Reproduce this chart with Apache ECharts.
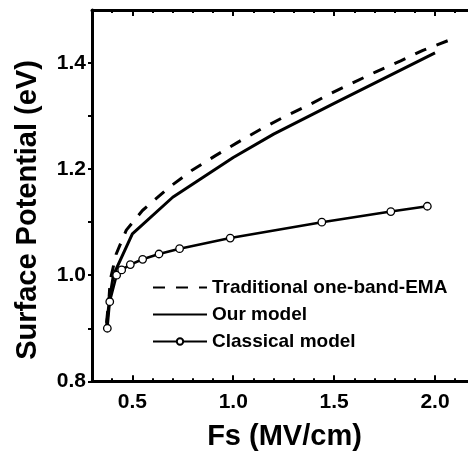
<!DOCTYPE html>
<html>
<head>
<meta charset="utf-8">
<script src="https://cdn.jsdelivr.net/npm/echarts@6/dist/echarts.min.js"></script>
<style>
  html, body { margin: 0; padding: 0; background: #fff; }
  #chart { width: 468px; height: 454px; }
</style>
</head>
<body>
<div id="chart"></div>
<script>
// Surface potential versus surface field Fs for three models
const seriesNames = ['Traditional one-band-EMA', 'Our model', 'Classical model'];

// Traditional one-band-EMA (dashed)
const emaFs = [0.372, 0.385, 0.39, 0.42, 0.47, 0.55, 0.68, 0.80, 0.91, 1.02, 1.14, 1.25, 1.37, 1.48, 1.60, 1.71, 1.83, 1.94, 2.09];
const emaPot = [0.91, 0.96, 0.99, 1.04, 1.085, 1.122, 1.165, 1.199, 1.225, 1.25, 1.276, 1.298, 1.32, 1.342, 1.364, 1.384, 1.404, 1.424, 1.446];

// Our model (solid)
const ourFs = [0.371, 0.386, 0.406, 0.50, 0.70, 1.00, 1.20, 1.50, 2.00];
const ourPot = [0.90, 0.953, 1.00, 1.078, 1.147, 1.222, 1.266, 1.324, 1.419];

// Classical model (solid with open circles)
const clsFs = [0.376, 0.388, 0.422, 0.447, 0.49, 0.551, 0.632, 0.734, 0.985, 1.439, 1.781, 1.962];
const clsPot = [0.90, 0.95, 1.00, 1.01, 1.02, 1.03, 1.04, 1.05, 1.07, 1.10, 1.12, 1.13];

// Axis ticks and labels
const xMajor = [0.5, 1.0, 1.5, 2.0];
const xMinor = [0.4, 0.6, 0.7, 0.8, 0.9, 1.1, 1.2, 1.3, 1.4, 1.6, 1.7, 1.8, 1.9, 2.1];
const yLabels = [0.8, 1.0, 1.2, 1.4];
const yTicks = [0.8, 0.9, 1.0, 1.1, 1.2, 1.3, 1.4];

const xTitle = 'Fs (MV/cm)';
const yTitle = 'Surface Potential (eV)';

const FONT = '"Liberation Sans", Arial, Helvetica, sans-serif';
const X_MIN = 0.3, X_MAX = 2.16, Y_MIN = 0.8, Y_MAX = 1.5;

const zip = (xs, ys) => xs.map((x, i) => [x, ys[i]]);

function xAxisDef(position, tickValues, tickLen, withLine, withLabels) {
  return {
    type: 'value',
    position: position,
    min: X_MIN,
    max: X_MAX,
    axisLine: { show: withLine, onZero: false, lineStyle: { color: '#000', width: 3 } },
    axisTick: {
      show: true, inside: true, length: tickLen,
      customValues: tickValues,
      lineStyle: { color: '#000', width: 2 }
    },
    axisLabel: withLabels ? {
      show: true, customValues: xMajor, margin: 10,
      formatter: v => v.toFixed(1),
      color: '#000', fontFamily: FONT, fontWeight: 'bold', fontSize: 21
    } : { show: false },
    splitLine: { show: false }
  };
}

const chart = echarts.init(document.getElementById('chart'), null, { renderer: 'canvas' });

chart.setOption({
  backgroundColor: '#fff',
  animation: false,
  grid: { left: 92, top: 10, right: 0.7, bottom: 72.7, containLabel: false },
  xAxis: [
    xAxisDef('bottom', xMajor, 6, true, true),
    xAxisDef('bottom', xMinor, 3, false, false),
    xAxisDef('top', xMajor, 6, true, false),
    xAxisDef('top', xMinor, 3, false, false)
  ],
  yAxis: {
    type: 'value',
    min: Y_MIN,
    max: Y_MAX,
    axisLine: { show: true, onZero: false, lineStyle: { color: '#000', width: 3 } },
    axisTick: {
      show: true, inside: false, length: 4,
      customValues: yTicks,
      lineStyle: { color: '#000', width: 2 }
    },
    axisLabel: {
      customValues: yLabels, margin: 6,
      formatter: v => v.toFixed(1),
      color: '#000', fontFamily: FONT, fontWeight: 'bold', fontSize: 21
    },
    splitLine: { show: false }
  },
  legend: {
    orient: 'vertical',
    left: 152,
    top: 278,
    padding: 0,
    itemWidth: 54,
    itemHeight: 8,
    itemGap: 8,
    data: [
      { name: seriesNames[0], itemStyle: { opacity: 0 } },
      { name: seriesNames[1], itemStyle: { opacity: 0 } },
      { name: seriesNames[2] }
    ],
    textStyle: { color: '#000', fontFamily: FONT, fontWeight: 'bold', fontSize: 19, lineHeight: 19 }
  },
  series: [
    {
      name: seriesNames[0],
      type: 'line',
      data: zip(emaFs, emaPot),
      showSymbol: false,
      symbol: 'none',
      color: '#000',
      lineStyle: { color: '#000', width: 3, type: [12, 11] },
      z: 2
    },
    {
      name: seriesNames[1],
      type: 'line',
      data: zip(ourFs, ourPot),
      showSymbol: false,
      symbol: 'none',
      color: '#000',
      lineStyle: { color: '#000', width: 3 },
      z: 3
    },
    {
      name: seriesNames[2],
      type: 'line',
      data: zip(clsFs, clsPot),
      symbol: 'circle',
      symbolSize: 7.5,
      color: '#000',
      itemStyle: { color: '#fff', borderColor: '#000', borderWidth: 1.3 },
      lineStyle: { color: '#000', width: 2.6 },
      z: 4
    }
  ],
  graphic: [
    {
      type: 'text',
      x: 284.5, y: 437,
      style: {
        text: xTitle, fill: '#000',
        font: 'bold 29px ' + FONT,
        align: 'center', verticalAlign: 'middle'
      }
    },
    {
      type: 'text',
      x: 28, y: 210,
      rotation: Math.PI / 2,
      style: {
        text: yTitle, fill: '#000',
        font: 'bold 29px ' + FONT,
        align: 'center', verticalAlign: 'middle'
      }
    }
  ]
});
</script>
</body>
</html>
